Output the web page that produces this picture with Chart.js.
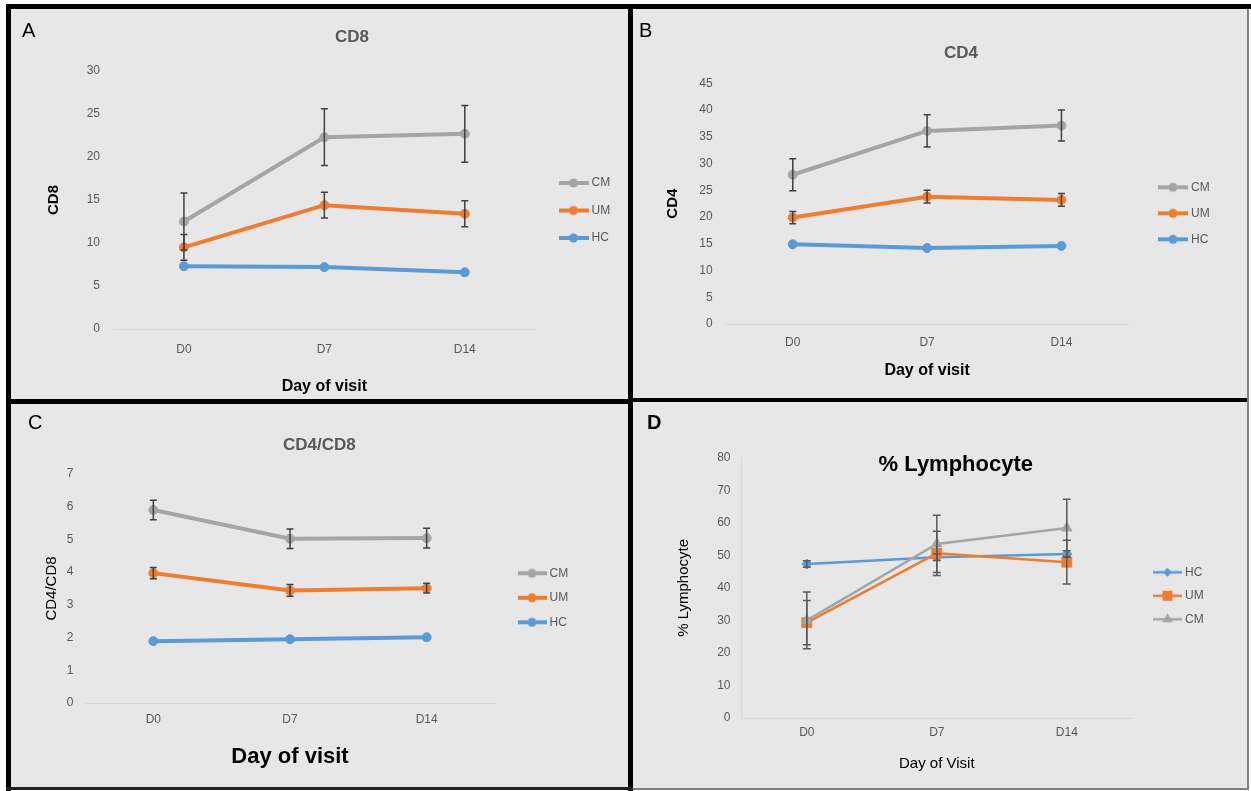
<!DOCTYPE html>
<html>
<head>
<meta charset="utf-8">
<script src="https://cdn.jsdelivr.net/npm/chart.js@4.4.1/dist/chart.umd.min.js"></script>
<style>
  body { margin: 0; width: 1251px; height: 791px; background: #fff; position: relative; overflow: hidden;
         font-family: "Liberation Sans", Arial, sans-serif; }
  .bg { position: absolute; left: 6px; top: 4px; width: 1243px; height: 786px; background: #e7e7e7; }
  .bar { position: absolute; background: #000; }
  .tag { position: absolute; font-size: 20px; line-height: 20px; color: #000; }
  canvas { position: absolute; }
</style>
</head>
<body>
<div class="bg"></div>
<canvas id="cd8" width="617" height="390" style="left:11px;top:9px"></canvas>
<canvas id="cd4" width="614" height="389" style="left:633px;top:9px"></canvas>
<canvas id="ratio" width="617" height="383" style="left:11px;top:404px"></canvas>
<canvas id="lymph" width="614" height="386" style="left:633px;top:402px"></canvas>

<div class="bar" style="left:6px;top:4px;width:1245px;height:5px"></div>
<div class="bar" style="left:6px;top:4px;width:5px;height:787px"></div>
<div class="bar" style="left:628px;top:4px;width:5px;height:787px"></div>
<div class="bar" style="left:6px;top:399px;width:627px;height:5px"></div>
<div class="bar" style="left:628px;top:398px;width:621px;height:4px"></div>
<div class="bar" style="left:1247px;top:9px;width:2px;height:781px;background:#808080"></div>
<div class="bar" style="left:6px;top:787px;width:627px;height:3px;background:#222"></div>
<div class="bar" style="left:633px;top:788px;width:616px;height:2px;background:#808080"></div>

<div class="tag" style="left:22px;top:20px">A</div>
<div class="tag" style="left:639px;top:20px">B</div>
<div class="tag" style="left:28px;top:412px">C</div>
<div class="tag" style="left:647px;top:412px;font-weight:bold">D</div>

<script>
const days = ['D0', 'D7', 'D14'];

// A - CD8
const cd8CM = [12.5, 22.3, 22.7];
const cd8CMErr = [3.3, 3.3, 3.3];
const cd8UM = [9.5, 14.4, 13.4];
const cd8UMErr = [1.5, 1.5, 1.5];
const cd8HC = [7.3, 7.2, 6.6];
const cd8Range = [0, 30, 5];

// B - CD4
const cd4CM = [27.9, 36.1, 37.1];
const cd4CMErr = [3.0, 3.0, 2.9];
const cd4UM = [19.9, 23.8, 23.2];
const cd4UMErr = [1.15, 1.2, 1.2];
const cd4HC = [14.9, 14.2, 14.6];
const cd4Range = [0, 45, 5];

// C - CD4/CD8
const ratioCM = [5.9, 5.02, 5.04];
const ratioCMErr = [0.3, 0.3, 0.3];
const ratioUM = [3.97, 3.44, 3.51];
const ratioUMErr = [0.17, 0.18, 0.15];
const ratioHC = [1.89, 1.95, 2.01];
const ratioRange = [0, 7, 1];

// D - % Lymphocyte
const lymphHC = [47.3, 49.4, 50.4];
const lymphHCErr = [1, 1, 1];
const lymphUM = [29.3, 50.6, 47.9];
const lymphUMErr = [6.8, 6.8, 6.7];
const lymphCM = [30.0, 53.5, 58.4];
const lymphCMErr = [8.7, 8.8, 8.8];
const lymphRange = [0, 80, 10];

const GREY = '#a5a5a5', ORANGE = '#ed7d31', BLUE = '#5b9bd5';
const FONT = '"Liberation Sans", Arial, sans-serif';
const meas = document.createElement('canvas').getContext('2d');

function keyImage(color, style, r, lw, len) {
  const c = document.createElement('canvas');
  c.width = Math.round(len); c.height = 16;
  const g = c.getContext('2d');
  g.strokeStyle = color; g.fillStyle = color; g.lineWidth = lw;
  g.beginPath(); g.moveTo(0, 8); g.lineTo(len, 8); g.stroke();
  const cx = len / 2;
  g.beginPath();
  if (style === 'circle') g.arc(cx, 8, r, 0, 2 * Math.PI);
  else if (style === 'rect') { const s = r * Math.SQRT1_2; g.rect(cx - s, 8 - s, 2 * s, 2 * s); }
  else if (style === 'rectRot') { g.moveTo(cx - r, 8); g.lineTo(cx, 8 - r); g.lineTo(cx + r, 8); g.lineTo(cx, 8 + r); g.closePath(); }
  else if (style === 'triangle') { g.moveTo(cx, 8 - r); g.lineTo(cx + 0.866 * r, 8 + 0.5 * r); g.lineTo(cx - 0.866 * r, 8 + 0.5 * r); g.closePath(); }
  g.fill();
  return c;
}

const errorBars = {
  id: 'errorBars',
  afterDatasetsDraw(chart, args, o) {
    const ctx = chart.ctx, x = chart.scales.x, y = chart.scales.y;
    ctx.save();
    ctx.strokeStyle = o.color; ctx.lineWidth = o.width;
    chart.data.datasets.forEach(ds => {
      (ds.errors || []).forEach((e, j) => {
        if (!e) return;
        const px = x.getPixelForValue(j);
        const hi = y.getPixelForValue(ds.data[j] + e), lo = y.getPixelForValue(ds.data[j] - e);
        ctx.beginPath();
        ctx.moveTo(px, hi); ctx.lineTo(px, lo);
        ctx.moveTo(px - o.cap, hi); ctx.lineTo(px + o.cap, hi);
        ctx.moveTo(px - o.cap, lo); ctx.lineTo(px + o.cap, lo);
        ctx.stroke();
      });
    });
    ctx.restore();
  }
};

// geo values are page pixels
function build(id, box, geo, range, series, txt) {
  const W = box.w, H = box.h;
  const L = v => v - box.x, T = v => v - box.y;
  const plotL = L(geo.plot[0]), plotR = L(geo.plot[1]), plotT = T(geo.plot[2]), plotB = T(geo.plot[3]);
  const [keyX, keyY, step, len] = geo.legend;
  const pad = step - 12;
  meas.font = '12px ' + FONT;
  const textW = Math.max(...series.map(s => meas.measureText(s.label).width));
  const legendW = pad + len + textW + 10;
  const padRight = W - plotR - legendW;
  const keys = series.map(s => keyImage(s.color, s.style, s.keyR, s.lw, len));
  const tlh = txt.titleFont.size * 1.2;

  const placer = {
    id: 'placer',
    afterLayout(chart) {
      const t = chart.titleBlock;
      const hw = (t.right - t.left) / 2;
      t.left = L(geo.titleX) - hw; t.right = L(geo.titleX) + hw;
      t.top = T(geo.titleY) - tlh / 2; t.bottom = t.top + tlh;
      const lg = chart.legend;
      const dx = L(keyX) + 3 - pad - lg.left;
      const dy = T(keyY) - 6 - pad - lg.top;
      lg.left += dx; lg.right += dx + 20;
      lg.top += dy; lg.bottom += dy;
    }
  };

  new Chart(document.getElementById(id), {
    type: 'line',
    data: {
      labels: days,
      datasets: series.map(s => ({
        label: s.label, data: s.data, errors: s.err,
        borderColor: s.color, backgroundColor: s.color,
        borderWidth: s.lw, pointStyle: s.style, pointRadius: s.r, pointHoverRadius: s.r,
        pointBorderWidth: 1, tension: 0, order: s.order
      }))
    },
    options: {
      responsive: false, animation: false, devicePixelRatio: 1,
      layout: { padding: { top: 0, left: 0, bottom: 0, right: padRight } },
      scales: {
        x: {
          offset: true,
          grid: { display: false, drawTicks: false },
          border: { display: true, color: '#d9d9d9' },
          ticks: { padding: T(geo.xLabelY) - plotB - 7.2, color: '#595959', font: { family: FONT, size: 12 } },
          title: { display: true, text: txt.xTitle, color: '#000', font: txt.xFont,
                   padding: { top: 0, bottom: H - T(geo.xTitleY) - txt.xFont.size * 0.6 } },
          afterFit: s => { s.height = H - plotB; }
        },
        y: {
          min: range[0], max: range[1],
          grid: { display: false, drawTicks: false },
          border: { display: !!geo.yLine, color: '#d9d9d9' },
          ticks: { stepSize: range[2], padding: plotL - L(geo.tickRight), color: '#595959', font: { family: FONT, size: 12 } },
          title: { display: true, text: txt.yTitle, color: '#000', font: txt.yFont,
                   padding: { top: L(geo.yTitleX) - txt.yFont.size * 0.6, bottom: 0 } },
          afterFit: s => { s.width = plotL; }
        }
      },
      plugins: {
        title: { display: true, text: txt.title, color: txt.titleColor, font: txt.titleFont,
                 padding: { top: 0, bottom: plotT - tlh } },
        legend: {
          position: 'right', align: 'start',
          labels: {
            usePointStyle: true, pointStyleWidth: len - 6, padding: pad,
            color: '#595959', font: { family: FONT, size: 12 },
            generateLabels(chart) {
              const items = Chart.defaults.plugins.legend.labels.generateLabels(chart);
              items.forEach(it => { it.pointStyle = keys[it.datasetIndex]; });
              return items.sort((a, b) => a.datasetIndex - b.datasetIndex);
            }
          }
        },
        tooltip: { enabled: false },
        errorBars: { color: txt.errColor, width: 1.5, cap: txt.cap }
      }
    },
    plugins: [errorBars, placer]
  });
}

const circ = (label, data, err, color, order) =>
  ({ label, data, err, color, order, style: 'circle', r: 4.5, keyR: 4.5, lw: 4 });

const boldTitle = { family: FONT, size: 17, weight: 'bold' };

build('cd8', { x: 11, y: 9, w: 617, h: 390 },
  { plot: [113.7, 535, 71, 329], titleX: 352, titleY: 37, yTitleX: 54, tickRight: 100,
    xLabelY: 350, xTitleY: 387, legend: [558.5, 183, 27.5, 30] },
  cd8Range,
  [circ('CM', cd8CM, cd8CMErr, GREY, 2), circ('UM', cd8UM, cd8UMErr, ORANGE, 1), circ('HC', cd8HC, null, BLUE, 0)],
  { title: 'CD8', titleColor: '#595959', titleFont: boldTitle,
    yTitle: 'CD8', yFont: { family: FONT, size: 15, weight: 'bold' },
    xTitle: 'Day of visit', xFont: { family: FONT, size: 16, weight: 'bold' },
    errColor: '#404040', cap: 3.5 });

build('cd4', { x: 633, y: 9, w: 614, h: 389 },
  { plot: [725.6, 1128.6, 83.3, 324], titleX: 961, titleY: 53, yTitleX: 673, tickRight: 712.6,
    xLabelY: 342.7, xTitleY: 371, legend: [1158, 187.3, 26, 30] },
  cd4Range,
  [circ('CM', cd4CM, cd4CMErr, GREY, 2), circ('UM', cd4UM, cd4UMErr, ORANGE, 1), circ('HC', cd4HC, null, BLUE, 0)],
  { title: 'CD4', titleColor: '#595959', titleFont: boldTitle,
    yTitle: 'CD4', yFont: { family: FONT, size: 15, weight: 'bold' },
    xTitle: 'Day of visit', xFont: { family: FONT, size: 16, weight: 'bold' },
    errColor: '#404040', cap: 3.5 });

build('ratio', { x: 11, y: 404, w: 617, h: 383 },
  { plot: [85, 495, 474, 703], titleX: 319.4, titleY: 445, yTitleX: 52, tickRight: 73.5,
    xLabelY: 720, xTitleY: 757, legend: [517.5, 573.3, 24.5, 29] },
  ratioRange,
  [circ('CM', ratioCM, ratioCMErr, GREY, 2), circ('UM', ratioUM, ratioUMErr, ORANGE, 1), circ('HC', ratioHC, null, BLUE, 0)],
  { title: 'CD4/CD8', titleColor: '#595959', titleFont: boldTitle,
    yTitle: 'CD4/CD8', yFont: { family: FONT, size: 15 },
    xTitle: 'Day of visit', xFont: { family: FONT, size: 22, weight: 'bold' },
    errColor: '#404040', cap: 3.5 });

build('lymph', { x: 633, y: 402, w: 614, h: 386 },
  { plot: [741.8, 1131.8, 457.7, 718], titleX: 955.8, titleY: 465, yTitleX: 683.6, tickRight: 730.5,
    xLabelY: 733, xTitleY: 764, legend: [1153, 572.3, 23.5, 29], yLine: true },
  lymphRange,
  [{ label: 'HC', data: lymphHC, err: lymphHCErr, color: BLUE, order: 2, style: 'rectRot', r: 5, keyR: 4.5, lw: 2.5 },
   { label: 'UM', data: lymphUM, err: lymphUMErr, color: ORANGE, order: 1, style: 'rect', r: 7, keyR: 7, lw: 2.5 },
   { label: 'CM', data: lymphCM, err: lymphCMErr, color: GREY, order: 0, style: 'triangle', r: 6, keyR: 6, lw: 2.5 }],
  { title: '% Lymphocyte', titleColor: '#000', titleFont: { family: FONT, size: 22, weight: 'bold' },
    yTitle: '% Lymphocyte', yFont: { family: FONT, size: 15 },
    xTitle: 'Day of Visit', xFont: { family: FONT, size: 15 },
    errColor: '#595959', cap: 4 });
</script>
</body>
</html>
